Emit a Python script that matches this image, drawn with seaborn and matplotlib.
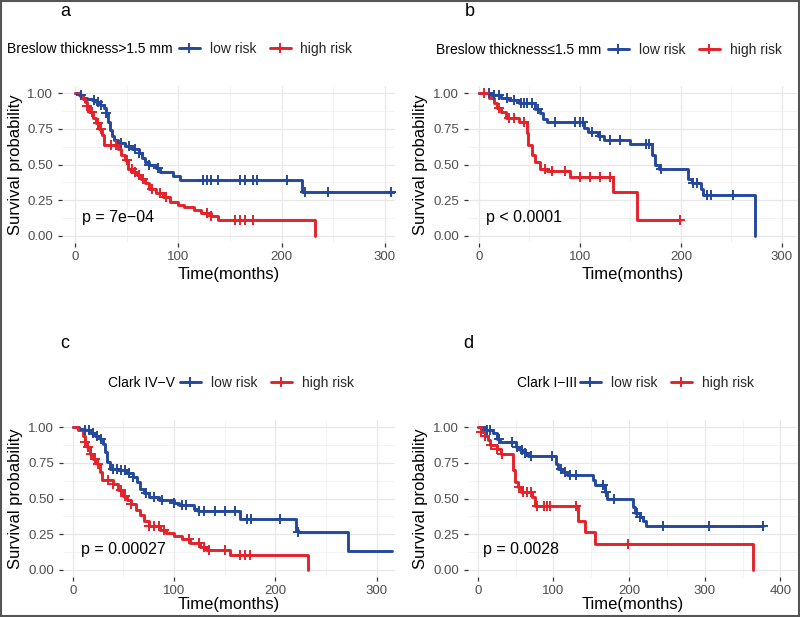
import numpy as np
import pandas as pd
import seaborn as sns
import matplotlib
matplotlib.use("Agg")
import matplotlib.pyplot as plt
from matplotlib.lines import Line2D
from matplotlib.patches import Rectangle

# ---------------- data ----------------
GROUPS = ["low risk", "high risk"]
PANEL_LETTERS = ["a", "b", "c", "d"]
LEGEND_TITLES = ["Breslow thickness>1.5 mm", "Breslow thickness\u22641.5 mm",
                 "Clark IV\u2212V", "Clark I\u2212III"]
PVALUES = ["p = 7e\u221204", "p < 0.0001", "p = 0.00027", "p = 0.0028"]
Y_TICKS = [0.0, 0.25, 0.5, 0.75, 1.0]
Y_TICK_LABELS = ["0.00", "0.25", "0.50", "0.75", "1.00"]
X_TICKS_ABC = [0, 100, 200, 300]
X_TICKS_D = [0, 100, 200, 300, 400]

# Panel a  (Breslow > 1.5 mm)
A_LOW_T = [0, 4, 8, 12, 16, 20, 24, 28, 30, 32, 34, 36, 38, 42, 48, 55, 62, 65, 68, 72, 78, 82, 95, 102, 220, 312]
A_LOW_S = [1.0, 0.99, 0.97, 0.96, 0.95, 0.94, 0.92, 0.90, 0.86, 0.80, 0.74, 0.70, 0.67, 0.65, 0.63, 0.61, 0.58, 0.55, 0.52, 0.50, 0.48, 0.45, 0.42, 0.39, 0.31, 0.31]
A_LOW_C = [6, 18, 22, 25, 30, 45, 52, 58, 62, 72, 80, 124, 128, 132, 138, 160, 165, 172, 176, 205, 223, 245, 306]
A_HIGH_T = [0, 5, 8, 10, 12, 14, 17, 20, 23, 26, 28, 42, 45, 48, 51, 56, 60, 64, 68, 72, 78, 85, 92, 100, 106, 115, 122, 132, 138, 232]
A_HIGH_S = [1.0, 0.98, 0.96, 0.94, 0.91, 0.87, 0.83, 0.79, 0.75, 0.71, 0.64, 0.61, 0.57, 0.53, 0.47, 0.45, 0.43, 0.40, 0.37, 0.33, 0.30, 0.27, 0.24, 0.22, 0.20, 0.18, 0.16, 0.14, 0.11, 0.0]
A_HIGH_C = [12, 16, 22, 25, 35, 40, 50, 55, 58, 62, 66, 75, 82, 88, 128, 132, 155, 160, 165, 172]

# Panel b  (Breslow <= 1.5 mm)
B_LOW_T = [0, 12, 22, 30, 40, 55, 60, 63, 67, 104, 108, 118, 124, 150, 171, 174, 178, 207, 211, 220, 222, 273]
B_LOW_S = [1.0, 0.99, 0.97, 0.95, 0.93, 0.89, 0.86, 0.82, 0.80, 0.76, 0.73, 0.70, 0.675, 0.645, 0.57, 0.50, 0.47, 0.40, 0.37, 0.33, 0.29, 0.0]
B_LOW_C = [10, 15, 20, 28, 35, 42, 45, 48, 52, 58, 75, 95, 100, 103, 112, 120, 130, 140, 165, 168, 180, 212, 216, 226, 230, 252]
B_HIGH_T = [0, 10, 15, 18, 22, 27, 40, 48, 49, 52, 55, 60, 67, 90, 133, 156, 199]
B_HIGH_S = [1.0, 0.97, 0.93, 0.90, 0.87, 0.83, 0.80, 0.72, 0.64, 0.57, 0.52, 0.47, 0.455, 0.41, 0.31, 0.11, 0.11]
B_HIGH_C = [5, 20, 30, 35, 45, 65, 72, 85, 100, 110, 120, 130, 199]

# Panel c  (Clark IV-V)
C_LOW_T = [0, 6, 12, 17, 22, 27, 30, 32, 34, 37, 45, 53, 60, 63, 66, 70, 75, 85, 100, 105, 120, 124, 165, 220, 222, 272, 315]
C_LOW_S = [1.0, 0.99, 0.98, 0.96, 0.94, 0.92, 0.88, 0.83, 0.76, 0.71, 0.70, 0.68, 0.65, 0.62, 0.57, 0.54, 0.51, 0.49, 0.47, 0.455, 0.43, 0.41, 0.36, 0.28, 0.265, 0.135, 0.135]
C_LOW_C = [12, 16, 20, 24, 28, 40, 44, 48, 52, 56, 60, 72, 80, 88, 100, 108, 112, 125, 130, 140, 150, 160, 172, 176, 205, 222]
C_HIGH_T = [0, 5, 10, 12, 14, 17, 20, 24, 27, 29, 40, 45, 50, 54, 58, 62, 66, 70, 75, 86, 92, 100, 108, 116, 126, 132, 155, 232]
C_HIGH_S = [1.0, 0.98, 0.94, 0.90, 0.86, 0.81, 0.78, 0.74, 0.69, 0.63, 0.60, 0.56, 0.52, 0.49, 0.46, 0.42, 0.385, 0.34, 0.31, 0.28, 0.26, 0.24, 0.22, 0.19, 0.16, 0.14, 0.105, 0.0]
C_HIGH_C = [12, 15, 18, 22, 25, 35, 40, 48, 52, 58, 75, 80, 85, 90, 115, 125, 130, 135, 150, 165, 170, 175]

# Panel d  (Clark I-III)
D_LOW_T = [0, 10, 20, 26, 30, 50, 56, 62, 67, 103, 106, 112, 118, 152, 155, 168, 171, 205, 208, 214, 218, 222, 377]
D_LOW_S = [1.0, 0.98, 0.96, 0.92, 0.90, 0.865, 0.84, 0.82, 0.80, 0.745, 0.71, 0.69, 0.665, 0.63, 0.595, 0.55, 0.50, 0.44, 0.40, 0.37, 0.345, 0.31, 0.31]
D_LOW_C = [12, 16, 28, 45, 52, 58, 62, 70, 98, 110, 115, 122, 130, 165, 170, 180, 210, 214, 245, 305, 377]
D_HIGH_T = [0, 5, 9, 13, 16, 25, 31, 47, 49, 53, 57, 72, 76, 133, 142, 155, 364]
D_HIGH_S = [1.0, 0.97, 0.94, 0.91, 0.875, 0.85, 0.81, 0.70, 0.62, 0.58, 0.55, 0.51, 0.45, 0.345, 0.265, 0.18, 0.0]
D_HIGH_C = [5, 10, 18, 25, 32, 55, 60, 65, 70, 78, 88, 92, 96, 130, 198]

PANEL_DATA = [
    ((A_LOW_T, A_LOW_S, A_LOW_C), (A_HIGH_T, A_HIGH_S, A_HIGH_C)),
    ((B_LOW_T, B_LOW_S, B_LOW_C), (B_HIGH_T, B_HIGH_S, B_HIGH_C)),
    ((C_LOW_T, C_LOW_S, C_LOW_C), (C_HIGH_T, C_HIGH_S, C_HIGH_C)),
    ((D_LOW_T, D_LOW_S, D_LOW_C), (D_HIGH_T, D_HIGH_S, D_HIGH_C)),
]

# ---------------- styling / layout ----------------
COLORS = ["#24499C", "#E3232B"]
FONT = ["Liberation Sans", "DejaVu Sans"]
W, H = 800, 617

sns.set_theme(style="white")
plt.rcParams["font.family"] = FONT

fig = plt.figure(figsize=(W / 100, H / 100), dpi=100)

# axes boxes in pixels: left, right, top, bottom ; xlim
BOXES = [
    (62, 395, 86.2, 243.1, (-12.6, 309.8), X_TICKS_ABC, [50, 150, 250]),
    (468, 797, 86.2, 243.1, (-10.9, 314.9), X_TICKS_ABC, [50, 150, 250]),
    (63, 395, 420.2, 577.1, (-9.6, 318.2), X_TICKS_ABC, [50, 150, 250]),
    (468, 797, 420.2, 577.1, (-12.8, 421.8), X_TICKS_D, [50, 150, 250, 350]),
]
XLABEL_Y = [274, 274, 605, 605]
YLABEL_X = [16, 420, 16, 420]
LETTER_POS = [(65, 11), (470, 11), (65, 344), (468, 344)]
LEG_Y = [49, 50, 383, 383]
LEG_TITLE_RIGHT = [173, 601, 175, 577]
LEG_KEY_START = [179, 608, 180, 580]
PVAL_POS = [(7, 0.13), (7, 0.13), (8, 0.14), (7, 0.14)]


def step_value(T, S, t):
    idx = np.searchsorted(np.asarray(T), t, side="right") - 1
    return np.asarray(S)[idx]


for i, (l, r, t, b, xlim, xt, xminor) in enumerate(BOXES):
    ax = fig.add_axes([l / W, 1 - b / H, (r - l) / W, (b - t) / H])
    ax.set_facecolor("white")
    for (T, S, C), grp, col in zip(PANEL_DATA[i], GROUPS, COLORS):
        df = pd.DataFrame({"time": T, "surv": S})
        sns.lineplot(data=df, x="time", y="surv", ax=ax, color=col, lw=2.1,
                     drawstyle="steps-post", estimator=None, sort=False,
                     legend=False)
        cdf = pd.DataFrame({"time": C, "surv": step_value(T, S, C)})
        sns.scatterplot(data=cdf, x="time", y="surv", ax=ax, color=col,
                        marker="+", s=55, linewidth=1.4, legend=False, zorder=3)
    ax.set_xlim(*xlim)
    ax.set_ylim(-0.05, 1.05)
    ax.set_xticks(xt)
    ax.set_xticklabels([str(v) for v in xt])
    ax.set_xticks(xminor, minor=True)
    ax.set_yticks(Y_TICKS)
    ax.set_yticklabels(Y_TICK_LABELS)
    ax.set_yticks([0.125, 0.375, 0.625, 0.875], minor=True)
    ax.grid(which="major", color="#E8E8E8", lw=0.9)
    ax.grid(which="minor", color="#F1F1F1", lw=0.6)
    ax.set_axisbelow(True)
    for s in ax.spines.values():
        s.set_visible(False)
    ax.tick_params(axis="both", which="major", length=3, width=0.9,
                   color="#333333", labelsize=9.5, labelcolor="#4D4D4D",
                   bottom=True, left=True)
    ax.tick_params(axis="x", pad=2.5)
    ax.tick_params(axis="y", pad=3.5)
    ax.tick_params(which="minor", length=0)
    ax.set_xlabel("Time(months)", fontsize=12, color="black", va="center")
    ax.xaxis.set_label_coords(0.5, (b - XLABEL_Y[i]) / (b - t))
    ax.set_ylabel("Survival probability", fontsize=12, color="black", va="center")
    ax.yaxis.set_label_coords((YLABEL_X[i] - l) / (r - l), 0.5)
    px, py = PVAL_POS[i]
    ax.text(px, py, PVALUES[i], fontsize=11.5, color="black", ha="left", va="center")

    # legend
    fig.text(LEG_TITLE_RIGHT[i] / W, 1 - LEG_Y[i] / H, LEGEND_TITLES[i],
             fontsize=10, ha="right", va="center", color="black")
    handles = [Line2D([0], [0], color=c, lw=2.1, marker="+", markersize=7, mew=1.4)
               for c in COLORS]
    fig.legend(handles, GROUPS, loc="center left",
               bbox_to_anchor=(LEG_KEY_START[i] / W, 1 - LEG_Y[i] / H),
               ncol=2, frameon=False, fontsize=10, handlelength=1.5,
               handletextpad=0.7, columnspacing=1.0, borderpad=0,
               borderaxespad=0)

    lx, ly = LETTER_POS[i]
    fig.text(lx / W, 1 - ly / H, PANEL_LETTERS[i], fontsize=13,
             ha="center", va="center", color="black")

fig.patches.append(Rectangle((0.0008, 0.001), 0.9984, 0.998, transform=fig.transFigure,
                             fill=False, edgecolor="#555555", lw=1.5))

fig.savefig("out.png", dpi=100, facecolor="white")
